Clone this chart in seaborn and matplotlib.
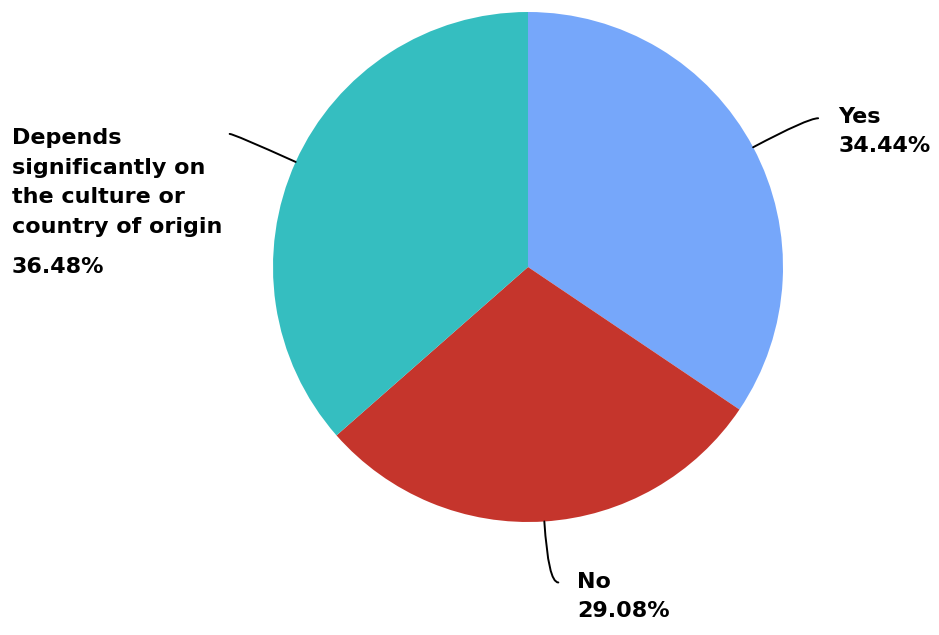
import numpy as np
import matplotlib
matplotlib.use("Agg")
import matplotlib.pyplot as plt
import seaborn as sns

labels = ["Yes", "No", "Depends\nsignificantly on\nthe culture or\ncountry of origin"]
values = [34.44, 29.08, 36.48]
colors = ["#76a7fa", "#c5352c", "#35bec0"]

sns.set_theme(style="white")
plt.rcParams['font.family'] = ['DejaVu Sans']

W, H = 939, 635
fig = plt.figure(figsize=(W / 100, H / 100), dpi=100)
ax = fig.add_axes([0, 0, 1, 1])

cx, cy, r = 528, H - 267, 255
wedges, _ = ax.pie(values, colors=colors, startangle=90, counterclock=False,
                   center=(cx, cy), radius=r, frame=True,
                   wedgeprops=dict(linewidth=0))
ax.set_xlim(0, W)
ax.set_ylim(0, H)
ax.set_aspect("equal")
ax.axis("off")

# offsets (pixels) from the wedge edge point: leader end, label anchor
layout = [
    dict(line_to=(65, 29), text=(85, 30)),
    dict(line_to=(14, -61), text=(33, -61)),
    dict(line_to=(-66, 28), text=(-284, 26)),
]
fs = 16
for w, lab, v, lo in zip(wedges, labels, values, layout):
    mid = (w.theta1 + w.theta2) / 2
    ang = np.deg2rad(mid)
    x0, y0 = cx + r * np.cos(ang), cy + r * np.sin(ang)
    x1, y1 = x0 + lo["line_to"][0], y0 + lo["line_to"][1]
    ax.annotate("", xy=(x0, y0), xytext=(x1, y1),
                arrowprops=dict(arrowstyle="-", color="black", lw=1.4,
                                connectionstyle=f"angle3,angleA=0,angleB={mid % 180:.1f}",
                                shrinkA=0, shrinkB=0))
    tx, ty = x0 + lo["text"][0], y0 + lo["text"][1]
    nlines = lab.count("\n") + 1
    if nlines == 1:
        ax.text(tx, ty, lab, ha="left", va="center", fontsize=fs,
                fontweight="bold", color="black")
        ax.text(tx, ty - 29, f"{v:.2f}%", ha="left", va="center",
                fontsize=fs, fontweight="bold", color="black")
    else:
        ax.text(tx, ty - 46.5, lab, ha="left", va="center", fontsize=fs,
                fontweight="bold", color="black", linespacing=1.6)
        ax.text(tx, ty - 131, f"{v:.2f}%", ha="left",
                va="center", fontsize=fs, fontweight="bold", color="black")

fig.savefig("out.png", dpi=100)
